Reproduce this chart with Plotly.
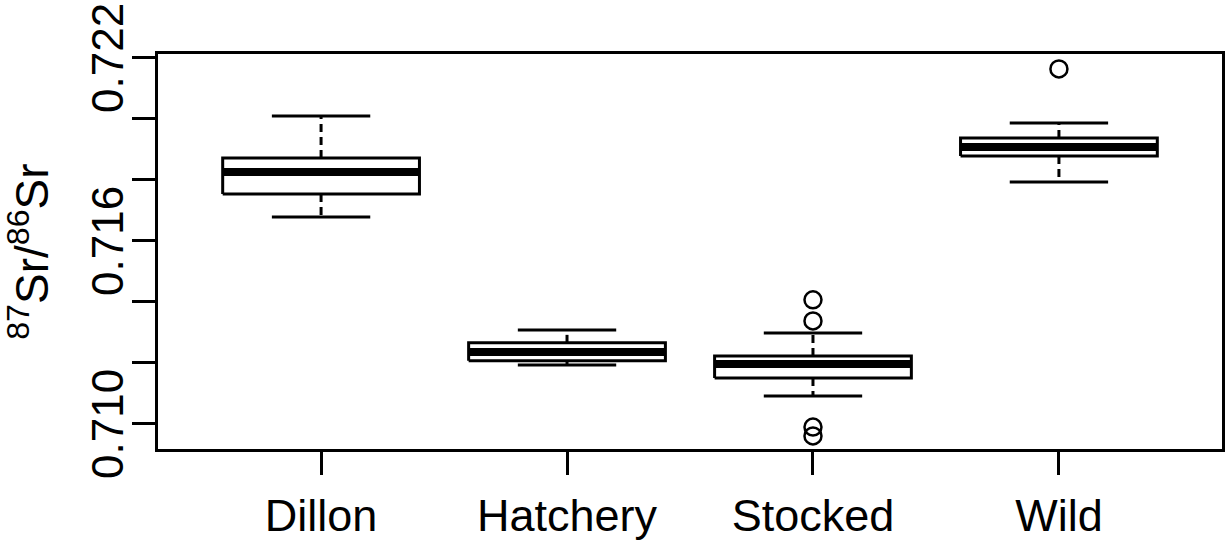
import plotly.graph_objects as go

categories = ["Dillon", "Hatchery", "Stocked", "Wild"]
upper_whisker = [0.72010, 0.71308, 0.71298, 0.71987]
q3 = [0.71872, 0.71266, 0.71223, 0.71938]
median = [0.71826, 0.71236, 0.71197, 0.71908]
q1 = [0.71754, 0.71207, 0.71151, 0.71879]
lower_whisker = [0.71679, 0.71193, 0.71092, 0.71793]
outliers = {
    "Dillon": [],
    "Hatchery": [],
    "Stocked": [0.71407, 0.71338, 0.70990, 0.70961],
    "Wild": [0.72164],
}
y_tick_vals = [0.710, 0.712, 0.714, 0.716, 0.718, 0.720, 0.722]
y_label_vals = [0.710, 0.716, 0.722]
y_label_text = ["0.710", "0.716", "0.722"]

BOX_HALF = 0.4
CAP_HALF = 0.2
FONT = "Liberation Sans, Arial, Helvetica, sans-serif"

wx, wy, bx, by, mx, my, cx, cy, ox, oy = ([] for _ in range(10))
for i, cat in enumerate(categories):
    p = i + 1
    wx += [p, p, None, p, p, None]
    wy += [q3[i], upper_whisker[i], None, q1[i], lower_whisker[i], None]
    bx += [p - BOX_HALF, p + BOX_HALF, p + BOX_HALF, p - BOX_HALF, p - BOX_HALF, None]
    by += [q1[i], q1[i], q3[i], q3[i], q1[i], None]
    mx += [p - BOX_HALF, p + BOX_HALF, None]
    my += [median[i], median[i], None]
    cx += [p - CAP_HALF, p + CAP_HALF, None, p - CAP_HALF, p + CAP_HALF, None]
    cy += [upper_whisker[i], upper_whisker[i], None, lower_whisker[i], lower_whisker[i], None]
    for v in outliers[cat]:
        ox.append(p)
        oy.append(v)

fig = go.Figure()
fig.add_trace(go.Scatter(x=wx, y=wy, mode="lines",
                         line=dict(color="black", width=3, dash="8px,5px"),
                         hoverinfo="skip", showlegend=False))
fig.add_trace(go.Scatter(x=cx, y=cy, mode="lines",
                         line=dict(color="black", width=3),
                         hoverinfo="skip", showlegend=False))
fig.add_trace(go.Scatter(x=bx, y=by, mode="lines", fill="toself", fillcolor="white",
                         line=dict(color="black", width=3),
                         hoverinfo="skip", showlegend=False))
fig.add_trace(go.Scatter(x=mx, y=my, mode="lines",
                         line=dict(color="black", width=8),
                         hoverinfo="skip", showlegend=False))
fig.add_trace(go.Scatter(x=ox, y=oy, mode="markers",
                         marker=dict(symbol="circle-open", size=17, color="black",
                                     line=dict(width=2.5, color="black")),
                         showlegend=False))

annotations = [dict(text=t, x=-0.047, y=v, xref="paper", yref="y",
                    xanchor="center", yanchor="middle", textangle=-90,
                    showarrow=False, font=dict(size=44, family=FONT, color="black"))
               for v, t in zip(y_label_vals, y_label_text)]
annotations.append(dict(text="<sup>87</sup>Sr/<sup>86</sup>Sr", xref="paper", yref="paper",
                        x=-0.151, y=0.5, xanchor="left", yanchor="middle",
                        textangle=-90, showarrow=False,
                        font=dict(size=46, family=FONT, color="black")))

fig.update_layout(
    width=1225, height=546,
    margin=dict(l=158, r=3, t=54, b=97),
    paper_bgcolor="white", plot_bgcolor="white",
    font=dict(family=FONT, color="black", size=45),
    xaxis=dict(range=[0.337, 4.663], tickvals=[1, 2, 3, 4], ticktext=categories,
               showgrid=False, zeroline=False, showline=True, mirror=True,
               linecolor="black", linewidth=3, ticks="outside", ticklen=23,
               tickwidth=3, tickcolor="black", tickfont=dict(size=45, family=FONT),
               ticklabelstandoff=2, automargin=False),
    yaxis=dict(range=[0.70918, 0.72213], tickvals=y_tick_vals, showticklabels=False,
               showgrid=False, zeroline=False, showline=True, mirror=True,
               linecolor="black", linewidth=3, ticks="outside", ticklen=23,
               tickwidth=3, tickcolor="black", automargin=False),
    annotations=annotations,
)

fig.write_html("out.html")
